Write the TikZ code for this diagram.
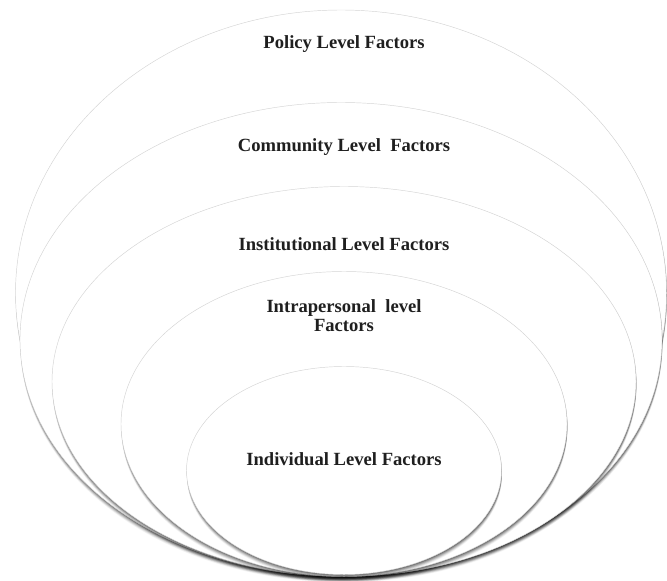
\documentclass[tikz,border=0pt]{standalone}
\usepackage{fontspec}
\setmainfont{Liberation Serif}
\begin{document}
\begin{tikzpicture}[x=1pt,y=-1pt,
  ring/.style={fill=white, draw=black!17, line width=0.45pt},
  shade/.style={fill=black},
  tag/.style={font=\fontsize{18.6}{19.6}\selectfont\bfseries, align=center, text=black!88, inner sep=0pt}]
\useasboundingbox (0,0) rectangle (667,581);
% one nested level: soft shadow below, then the white disc with a faint rim
% arguments: centre x, centre y, x radius, y radius
\newcommand\ringlevel[4]{%
  \foreach \s/\o in {5.5/0.05,4.6/0.07,3.8/0.09,3.0/0.11,2.2/0.13,1.4/0.15,0.7/0.15}{%
    \fill[shade, opacity=\o] (#1+0.4,#2+\s) ellipse [x radius=#3, y radius=#4];
  }%
  \path[ring] (#1,#2) ellipse [x radius=#3, y radius=#4];
}
\ringlevel{341}{293}{325.5}{283}
\ringlevel{341}{339.5}{321}{237}
\ringlevel{344}{381.5}{292}{195}
\ringlevel{344}{424}{223}{152.5}
\ringlevel{344}{470.5}{157.5}{104}

\node[tag] (policy)    at (344,44)    {Policy Level Factors};
\node[tag] (community) at (344,147)   {Community Level\ \ Factors};
\node[tag] (institute) at (344,244)   {Institutional Level Factors};
\node[tag] (intra)     at (344,315.5) {Intrapersonal\ \ level\\Factors};
\node[tag] (individ)   at (344,459)   {Individual Level Factors};
\end{tikzpicture}
\end{document}
